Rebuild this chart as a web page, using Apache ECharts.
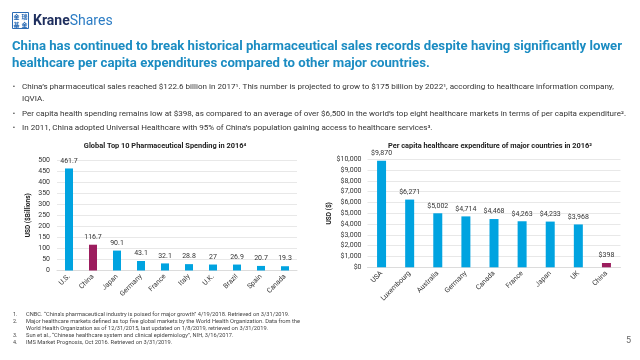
<!DOCTYPE html>
<html><head><meta charset="utf-8">
<script src="https://cdn.jsdelivr.net/npm/echarts@6/dist/echarts.min.js"></script>
<style>html,body{margin:0;padding:0;background:#fff}#c{width:640px;height:360px}</style>
</head><body><div id="c"></div>
<script>
const pharmaCategories = ['U.S.','China','Japan','Germany','France','Italy','U.K.','Brazil','Spain','Canada'];
const pharmaValues = [461.7,116.7,90.1,43.1,32.1,28.8,27,26.9,20.7,19.3];
const pharmaTicks = [0,50,100,150,200,250,300,350,400,450,500];
const capitaCategories = ['USA','Luxembourg','Australia','Germany','Canada','France','Japan','UK','China'];
const capitaValues = [9870,6271,5002,4714,4468,4263,4233,3968,398];
const capitaTicks = [0,1000,2000,3000,4000,5000,6000,7000,8000,9000,10000];

const headingLines = [
  'China has continued to break historical pharmaceutical sales records despite having significantly lower',
  'healthcare per capita expenditures compared to other major countries.'
];
const bullets = [
  ['China\u2019s pharmaceutical sales reached $122.6 billion in 2017\u00b9. This number is projected to grow to $175 billion by 2022\u00b9, according to healthcare information company,', 'IQVIA.'],
  ['Per capita health spending remains low at $398, as compared to an average of over $6,500 in the world\u2019s top eight healthcare markets in terms of per capita expenditure\u00b2.'],
  ['In 2011, China adopted Universal Healthcare with 95% of China\u2019s population gaining access to healthcare services\u00b3.']
];
const footnotes = [
  ['1.', 'CNBC. \u201cChina\u2019s pharmaceutical industry is poised for major growth\u201d 4/19/2018. Retrieved on 3/31/2019.'],
  ['2.', 'Major healthcare markets defined as top five global markets by the World Health Organization. Data from the', 'World Health Organization as of 12/31/2015, last updated on 1/8/2019, retrieved on 3/31/2019.'],
  ['3.', 'Sun et al., \u201cChinese healthcare system and clinical epidemiology\u201d, NIH, 3/16/2017.'],
  ['4.', 'IMS Market Prognosis, Oct 2016. Retrieved on 3/31/2019.']
];
const leftTitle = 'Global Top 10 Pharmaceutical Spending in 2016\u2074';
const rightTitle = 'Per capita healthcare expenditure of major countries in 2016\u00b2';

const BLUE = '#00a3e0', MAROON = '#9c1d5e';
const FONT = 'Roboto, "Liberation Sans", sans-serif';

// text width helper to match the reference line lengths
const mctx = document.createElement('canvas').getContext('2d');
function fitScale(text, font, target){ mctx.font = font; return target / mctx.measureText(text).width; }

const graphics = [];
// logo
graphics.push({type:'rect', shape:{x:12.5,y:12.5,width:16,height:16}, style:{fill:'#fff', stroke:'#2b6cb5', lineWidth:1}});
[['金',16.5,16.7],['瑞',24.5,16.7],['基',16.5,24.5],['金',24.5,24.5]].forEach(c=>{
  graphics.push({type:'text', x:c[1], y:c[2], style:{text:c[0], font:'bold 6px "Noto Sans CJK SC"', fill:'#2b6cb5', align:'center', verticalAlign:'middle'}});
});
graphics.push({type:'text', x:33, y:21, style:{rich:{a:{font:'bold 14px '+FONT, fill:'#1f2f5e'}, b:{font:'14px '+FONT, fill:'#2b7cc4'}}, text:'{a|Krane}{b|Shares}', verticalAlign:'middle'}});
// heading
const HF = 'bold 13px ' + FONT;
const hScale = fitScale(headingLines[0], HF, 610);
headingLines.forEach((t,i)=>{
  graphics.push({type:'text', x:12, y:47+i*17, scaleX:hScale, style:{text:t, font:HF, fill:'#1b8cc2', verticalAlign:'middle'}});
});
// bullets
const BF = '7.4px ' + FONT;
const bScale = fitScale(bullets[1][0], BF, 604);
const bulletY = [87,114,128.5];
bullets.forEach((b,i)=>{
  graphics.push({type:'text', x:14, y:bulletY[i], style:{text:'\u2022', font:'7px '+FONT, fill:'#333', align:'center', verticalAlign:'middle'}});
  b.forEach((t,j)=>{
    graphics.push({type:'text', x:22, y:bulletY[i]+j*12, scaleX:bScale, style:{text:t, font:BF, fill:'#333', verticalAlign:'middle'}});
  });
});
// chart titles
const TF = 'bold 7.4px ' + FONT;
graphics.push({type:'text', x:165, y:146, style:{text:leftTitle, font:TF, fill:'#222', align:'center', verticalAlign:'middle'}});
graphics.push({type:'text', x:490, y:146, style:{text:rightTitle, font:TF, fill:'#222', align:'center', verticalAlign:'middle'}});
// footnotes
const FF = '5.4px ' + FONT;
const fScale = fitScale(footnotes[1][1], FF, 274);
let fy = 315;
footnotes.forEach(f=>{
  graphics.push({type:'text', x:13, y:fy, style:{text:f[0], font:FF, fill:'#444', verticalAlign:'middle'}});
  f.slice(1).forEach(t=>{
    graphics.push({type:'text', x:26, y:fy, scaleX:fScale, style:{text:t, font:FF, fill:'#444', verticalAlign:'middle'}});
    fy += 7;
  });
});
graphics.push({type:'text', x:631, y:341, style:{text:'5', font:'9px '+FONT, fill:'#666', align:'right', verticalAlign:'middle'}});

const fmtDollar = v => '$' + Math.round(v).toLocaleString('en-US');
const colorFor = c => c === 'China' ? MAROON : BLUE;

const axisLabelStyle = {fontSize:7, color:'#333', fontFamily:FONT};

const option = {
  animation:false,
  backgroundColor:'#fff',
  graphic: graphics,
  grid:[
    {left:57, right:343, top:160, bottom:89.5},
    {left:367.5, right:19.5, top:159.3, bottom:92.7}
  ],
  xAxis:[
    {type:'category', gridIndex:0, data:pharmaCategories, axisTick:{show:false}, axisLine:{lineStyle:{color:'#dcdcdc'}},
     axisLabel:Object.assign({rotate:45, interval:0, margin:5}, axisLabelStyle)},
    {type:'category', gridIndex:1, data:capitaCategories, axisTick:{show:false}, axisLine:{lineStyle:{color:'#dcdcdc'}},
     axisLabel:Object.assign({rotate:45, interval:0, margin:5}, axisLabelStyle)}
  ],
  yAxis:[
    {type:'value', gridIndex:0, min:pharmaTicks[0], max:pharmaTicks[pharmaTicks.length-1], interval:pharmaTicks[1]-pharmaTicks[0],
     name:'USD ($Billions)', nameLocation:'middle', nameGap:25, nameTextStyle:{fontSize:6.5, fontWeight:'bold', color:'#222', fontFamily:FONT},
     axisLine:{show:false}, axisTick:{show:false}, splitLine:{lineStyle:{color:'#e8e8e8'}},
     axisLabel:Object.assign({margin:7}, axisLabelStyle)},
    {type:'value', gridIndex:1, min:capitaTicks[0], max:capitaTicks[capitaTicks.length-1], interval:capitaTicks[1]-capitaTicks[0],
     name:'USD ($)', nameLocation:'middle', nameGap:34, nameTextStyle:{fontSize:6.5, fontWeight:'bold', color:'#222', fontFamily:FONT},
     axisLine:{show:false}, axisTick:{show:false}, splitLine:{lineStyle:{color:'#e8e8e8'}},
     axisLabel:Object.assign({margin:6, formatter:fmtDollar}, axisLabelStyle)}
  ],
  series:[
    {type:'bar', xAxisIndex:0, yAxisIndex:0, barWidth:8,
     data:pharmaValues.map((v,i)=>({value:v, itemStyle:{color:colorFor(pharmaCategories[i])}})),
     label:{show:true, position:'top', distance:4, fontSize:7, color:'#333', fontFamily:FONT}},
    {type:'bar', xAxisIndex:1, yAxisIndex:1, barWidth:9,
     data:capitaValues.map((v,i)=>({value:v, itemStyle:{color:colorFor(capitaCategories[i])}})),
     label:{show:true, position:'top', distance:4, fontSize:7, color:'#333', fontFamily:FONT, formatter:p=>fmtDollar(p.value)}}
  ]
};
const chart = echarts.init(document.getElementById('c'), null, {renderer:'canvas'});
chart.setOption(option);
</script></body></html>
